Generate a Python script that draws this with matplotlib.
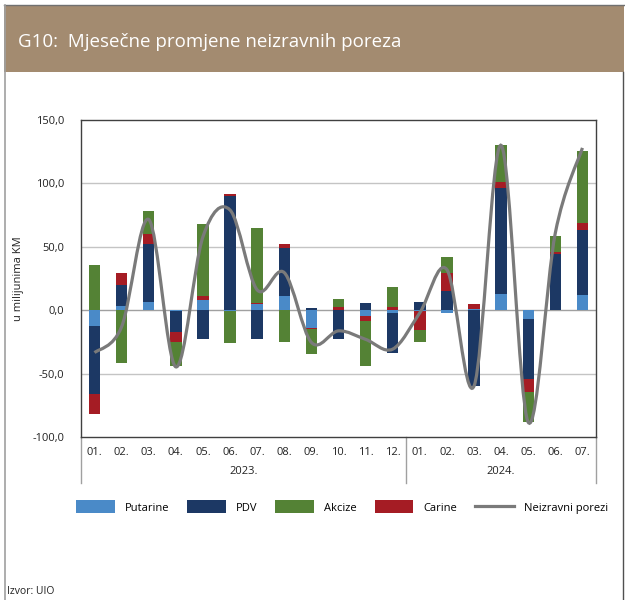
import numpy as np
import matplotlib
matplotlib.use("Agg")
import matplotlib.pyplot as plt
from matplotlib.path import Path
from matplotlib.patches import PathPatch, Rectangle, Patch
from matplotlib.lines import Line2D
import matplotlib.transforms as mtransforms

plt.rcParams["font.family"] = ["Open Sans", "DejaVu Sans"]

# === Daten (mil. KM) ===
months = ["01.", "02.", "03.", "04.", "05.", "06.", "07.", "08.", "09.", "10.", "11.", "12.",
          "01.", "02.", "03.", "04.", "05.", "06.", "07."]
years = ["2023.", "2024."]
year_len = [12, 7]

putarine = [-12.4, 3.1, 6.6, -1.0, 8.3, -0.8, 5.2, 11.0, -14.4, 0.0, -4.5, -2.1,
            -1.0, -2.6, 1.2, 12.8, -7.1, 0.0, 11.8]
pdv = [-53.4, 16.8, 45.4, -16.0, -22.9, 89.8, -23.0, 38.3, 1.8, -22.8, 5.8, -31.5,
       6.8, 15.2, -60.0, 83.4, -47.5, 44.6, 51.1]
carine = [-15.8, 9.4, 7.9, -8.0, 2.6, 1.8, 0.8, 2.6, -0.8, 2.4, -4.2, 2.6,
          -14.7, 14.2, 3.4, 4.7, -10.2, 1.3, 5.8]
akcize = [35.3, -42.0, 18.1, -19.2, 56.8, -24.7, 58.5, -25.4, -19.4, 6.8, -35.1, 15.7,
          -9.7, 12.3, 0.0, 29.1, -23.6, 12.6, 56.9]
neizravni = [-33.5, -13.0, 71.5, -44.7, 58.0, 79.0, 16.0, 29.6, -25.4, -16.3, -23.0, -30.7,
             -2.0, 32.0, -59.8, 130.0, -88.4, 61.0, 128.0]

# === Farben ===
c_put = "#4a8ac8"
c_pdv = "#1c3864"
c_akc = "#548235"
c_car = "#a51c24"
c_line = "#7a7a7a"
c_head = "#a38b70"

W, H = 625, 600
fig = plt.figure(figsize=(W / 100, H / 100), dpi=100)

def fx(px):
    return px / W

def fy(py):
    return 1 - py / H

# Kopfzeile und Rahmen
fig.patches.append(Rectangle((fx(4), fy(72)), fx(620), 67 / H, transform=fig.transFigure,
                             facecolor=c_head, edgecolor="none", zorder=0))
fig.add_artist(Line2D([fx(4), fx(624)], [fy(5), fy(5)], color="#707070", lw=1))
fig.add_artist(Line2D([fx(5), fx(5)], [fy(5), fy(600)], color="#a0a0a0", lw=1.2))
fig.add_artist(Line2D([fx(623), fx(623)], [fy(72), fy(600)], color="#505050", lw=1))
fig.text(fx(18), fy(42), "G10:  Mjesečne promjene neizravnih poreza", color="white",
         fontsize=13.5, va="center", ha="left")

ax = fig.add_axes([fx(81), fy(437), fx(596) - fx(81), (437 - 120) / H])

x = np.arange(len(months))
series = [(putarine, c_put), (pdv, c_pdv), (carine, c_car), (akcize, c_akc)]
pos = np.zeros(len(x))
neg = np.zeros(len(x))
for vals, col in series:
    v = np.array(vals)
    bottom = np.where(v >= 0, pos, neg)
    ax.bar(x, v, bottom=bottom, width=0.42, color=col, edgecolor="none", zorder=3)
    pos = pos + np.where(v >= 0, v, 0)
    neg = neg + np.where(v < 0, v, 0)

# geglaettete Linie (wie Excel)
y = np.array(neizravni)
pts = np.column_stack([x, y])
ext = np.vstack([pts[0], pts, pts[-1]])
verts = [tuple(pts[0])]
codes = [Path.MOVETO]
for i in range(len(pts) - 1):
    p0, p1, p2, p3 = ext[i], ext[i + 1], ext[i + 2], ext[i + 3]
    c1 = p1 + (p2 - p0) / 6
    c2 = p2 - (p3 - p1) / 6
    verts += [tuple(c1), tuple(c2), tuple(p2)]
    codes += [Path.CURVE4] * 3
ax.add_patch(PathPatch(Path(verts, codes), facecolor="none", edgecolor=c_line, lw=2.3, zorder=4))

ax.set_xlim(-0.5, len(x) - 0.5)
ax.set_ylim(-100, 150)
yt = [-100, -50, 0, 50, 100, 150]
ax.set_yticks(yt)
ax.set_yticklabels([f"{v:.1f}".replace(".", ",") for v in yt], fontsize=8, color="#222222")
for v in [-50, 50, 100]:
    ax.axhline(v, color="#c4c4c4", lw=1, zorder=1)
ax.axhline(0, color="#a0a0a0", lw=1, zorder=2)
ax.tick_params(axis="y", length=0, pad=12)
ax.set_xticks(x)
ax.set_xticklabels(months, fontsize=8, color="#222222")
ax.tick_params(axis="x", length=0, pad=7)
for s in ax.spines.values():
    s.set_color("#404040")
    s.set_linewidth(1)
ax.set_ylabel("u milijunima KM", fontsize=8, labelpad=6, color="#222222")

# Jahresbeschriftung und Trennlinien
trans = mtransforms.blended_transform_factory(ax.transData, ax.transAxes)
start = 0
edges = [-0.5]
for yr, n in zip(years, year_len):
    ax.text(start + (n - 1) / 2, -34 / 317, yr, transform=trans, ha="center", va="center",
            fontsize=8, color="#222222")
    start += n
    edges.append(start - 0.5)
for e in edges:
    ax.plot([e, e], [0, -46 / 317], transform=trans, color="#a0a0a0", lw=1, clip_on=False)

handles = [Patch(facecolor=c_put, edgecolor="none"), Patch(facecolor=c_pdv, edgecolor="none"),
           Patch(facecolor=c_akc, edgecolor="none"), Patch(facecolor=c_car, edgecolor="none"),
           Line2D([], [], color=c_line, lw=2.3)]
labels = ["Putarine", "PDV", "Akcize", "Carine", "Neizravni porezi"]
fig.legend(handles, labels, loc="center", bbox_to_anchor=(fx(342), fy(507)), ncol=5,
           frameon=False, fontsize=8, handlelength=3.5, handleheight=1.4,
           handletextpad=0.9, columnspacing=1.6)

fig.text(fx(7), fy(591), "Izvor: UIO", fontsize=7.5, va="center", ha="left", color="#222222")

fig.savefig("out.png", dpi=100)
